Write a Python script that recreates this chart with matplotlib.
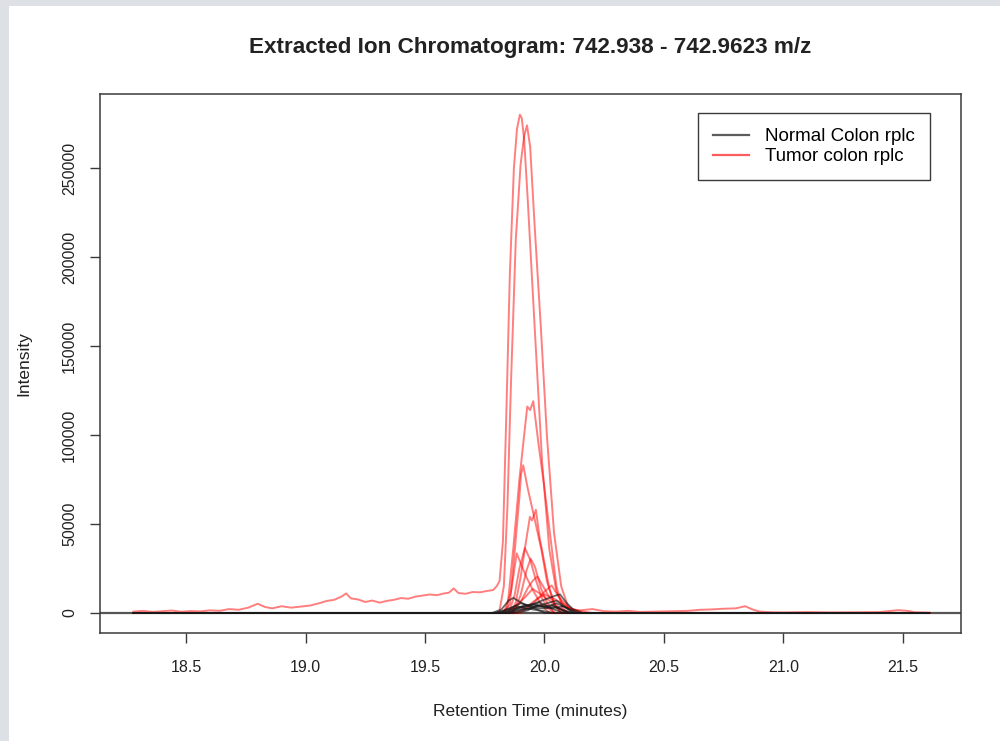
import matplotlib
matplotlib.use("Agg")
import matplotlib.pyplot as plt
from matplotlib.lines import Line2D
from matplotlib.patches import Rectangle

plt.rcParams['font.family'] = ['Liberation Sans', 'DejaVu Sans']

# tumor traces (retention time in minutes, intensity)
# trace 1 carries the rising background before the peak and the tail after it
tumor1_rt = [18.28, 18.32, 18.36, 18.40, 18.44, 18.48, 18.52, 18.56, 18.60, 18.64, 18.68, 18.72,
             18.76, 18.80, 18.83, 18.86, 18.90, 18.94, 18.98, 19.02, 19.06, 19.09, 19.12, 19.15,
             19.17, 19.19, 19.22, 19.25, 19.28, 19.31, 19.34, 19.37, 19.40, 19.43, 19.46, 19.49,
             19.52, 19.55, 19.58, 19.60, 19.62, 19.64, 19.67, 19.70, 19.73, 19.76, 19.785, 19.80,
             19.812, 19.826, 19.84, 19.855, 19.872, 19.885, 19.897, 19.905, 19.915, 19.93, 19.96,
             19.99, 20.02, 20.05, 20.08, 20.12, 20.15, 20.20, 20.25, 20.30, 20.35, 20.40, 20.50,
             20.60, 20.65, 20.70, 20.75, 20.80, 20.84, 20.87, 20.90, 20.95, 21.00, 21.10, 21.20,
             21.30, 21.40, 21.48, 21.52, 21.55, 21.61]
tumor1_int = [800, 1200, 600, 1000, 1400, 700, 1100, 900, 1500, 1200, 2200, 1800,
              3000, 5200, 3400, 2600, 3800, 3000, 3600, 4200, 5600, 6800, 7400, 9200,
              11000, 8200, 7600, 6200, 7000, 5800, 6800, 7400, 8400, 8000, 9200, 9800,
              10400, 10000, 11000, 11400, 13800, 11200, 10800, 11800, 11600, 12400, 12900, 15000,
              18000, 40000, 110000, 190000, 250000, 272000, 280000, 278000, 266000, 232000, 158000,
              85000, 36000, 12000, 4000, 2000, 1500, 2200, 1000, 800, 1200, 600, 900,
              1200, 1800, 2000, 2400, 2600, 3800, 2000, 800, 400, 300, 500, 300,
              400, 500, 1600, 1200, 400, 200]

tumor2_rt = [18.28, 19.81, 19.83, 19.845, 19.86, 19.88, 19.90, 19.915, 19.927, 19.94, 19.96,
             19.985, 20.01, 20.04, 20.07, 20.10, 20.14, 21.61]
tumor2_int = [0, 0, 15000, 60000, 130000, 210000, 252000, 268000, 274000, 262000, 215000,
              160000, 100000, 45000, 15000, 3000, 0, 0]

tumor3_rt = [18.28, 19.82, 19.845, 19.87, 19.895, 19.915, 19.928, 19.94, 19.953, 19.975,
             19.998, 20.03, 20.05, 20.075, 20.10, 21.61]
tumor3_int = [0, 0, 3000, 37000, 75000, 100000, 116000, 114000, 119000, 95000,
              72000, 37000, 15000, 3000, 0, 0]

tumor4_rt = [18.28, 19.83, 19.855, 19.877, 19.895, 19.902, 19.911, 19.93, 19.96, 19.988,
             20.01, 20.04, 20.07, 21.61]
tumor4_int = [0, 0, 5000, 37000, 65000, 78000, 83000, 70000, 52000, 35000,
              18000, 5000, 0, 0]

tumor5_rt = [18.28, 19.86, 19.88, 19.90, 19.92, 19.939, 19.948, 19.964, 19.98, 20.00,
             20.02, 20.045, 20.07, 21.61]
tumor5_int = [0, 0, 6000, 20000, 38000, 54000, 52000, 58000, 42000, 28000,
              14000, 4000, 0, 0]

tumor6_rt = [18.28, 19.85, 19.875, 19.895, 19.918, 19.94, 19.965, 19.99, 20.02, 20.05, 21.61]
tumor6_int = [0, 0, 10000, 25000, 36500, 30000, 18000, 8000, 2000, 0, 0]

tumor7_rt = [18.28, 19.83, 19.86, 19.884, 19.90, 19.925, 19.955, 19.985, 20.02, 21.61]
tumor7_int = [0, 0, 12000, 33500, 28000, 20000, 12000, 5000, 0, 0]

tumor8_rt = [18.28, 19.87, 19.90, 19.925, 19.942, 19.96, 19.985, 20.01, 20.04, 21.61]
tumor8_int = [0, 0, 10000, 24000, 30500, 26000, 14000, 6000, 0, 0]

tumor9_rt = [18.28, 19.86, 19.90, 19.93, 19.95, 19.97, 19.99, 20.02, 20.06, 20.10, 21.61]
tumor9_int = [0, 0, 6000, 14000, 18000, 20500, 16000, 9000, 3000, 0, 0]

tumor10_rt = [18.28, 19.84, 19.88, 19.92, 19.95, 19.98, 20.02, 20.06, 20.10, 21.61]
tumor10_int = [0, 0, 4000, 9000, 13500, 11000, 7000, 2500, 0, 0]

tumor11_rt = [18.28, 19.88, 19.93, 19.97, 20.00, 20.04, 20.08, 20.12, 20.16, 21.61]
tumor11_int = [0, 0, 4000, 8000, 10500, 8000, 5000, 2000, 0, 0]

tumor12_rt = [18.28, 19.90, 19.95, 20.00, 20.03, 20.06, 20.10, 20.14, 20.20, 21.61]
tumor12_int = [0, 0, 5000, 12000, 15500, 9000, 3000, 1200, 0, 0]

# normal traces
normal1_rt = [18.28, 19.78, 19.82, 19.85, 19.87, 19.90, 19.93, 19.97, 20.00, 21.61]
normal1_int = [0, 0, 2000, 7000, 8500, 6000, 4000, 2000, 0, 0]

normal2_rt = [18.28, 19.85, 19.90, 19.95, 20.00, 20.04, 20.065, 20.09, 20.12, 20.16, 21.61]
normal2_int = [0, 0, 3000, 5000, 7500, 9500, 10500, 6000, 2000, 0, 0]

normal3_rt = [18.28, 19.80, 19.86, 19.90, 19.94, 19.98, 20.02, 20.06, 20.10, 21.61]
normal3_int = [0, 0, 3000, 5500, 4000, 6000, 3000, 1000, 0, 0]

normal4_rt = [18.28, 19.83, 19.88, 19.92, 19.96, 20.00, 20.05, 20.08, 20.12, 21.61]
normal4_int = [0, 0, 2500, 4500, 3500, 5000, 7000, 4000, 0, 0]

normal5_rt = [18.28, 19.86, 19.92, 19.96, 20.00, 20.04, 20.08, 20.12, 21.61]
normal5_int = [0, 0, 2000, 3000, 2500, 3500, 1500, 0, 0]

normal6_rt = [18.28, 19.79, 19.84, 19.88, 19.91, 19.95, 20.00, 20.04, 21.61]
normal6_int = [0, 0, 1500, 4000, 3000, 2000, 1000, 0, 0]

normal7_rt = [18.28, 19.88, 19.93, 19.97, 20.01, 20.05, 20.09, 20.14, 21.61]
normal7_int = [0, 0, 1500, 4500, 3000, 5500, 3000, 0, 0]

normal8_rt = [18.28, 19.82, 19.87, 19.91, 19.95, 19.99, 20.03, 20.07, 20.11, 21.61]
normal8_int = [0, 0, 2500, 3500, 5000, 3500, 4500, 2000, 0, 0]

normal9_rt = [18.28, 19.84, 19.89, 19.94, 19.98, 20.03, 20.08, 20.13, 21.61]
normal9_int = [0, 0, 1800, 2800, 4200, 2600, 3800, 0, 0]

tumor_traces = [(tumor1_rt, tumor1_int), (tumor2_rt, tumor2_int), (tumor3_rt, tumor3_int),
                (tumor4_rt, tumor4_int), (tumor5_rt, tumor5_int), (tumor6_rt, tumor6_int),
                (tumor7_rt, tumor7_int), (tumor8_rt, tumor8_int), (tumor9_rt, tumor9_int),
                (tumor10_rt, tumor10_int), (tumor11_rt, tumor11_int), (tumor12_rt, tumor12_int)]
normal_traces = [(normal1_rt, normal1_int), (normal2_rt, normal2_int), (normal3_rt, normal3_int),
                 (normal4_rt, normal4_int), (normal5_rt, normal5_int), (normal6_rt, normal6_int),
                 (normal7_rt, normal7_int), (normal8_rt, normal8_int), (normal9_rt, normal9_int)]

x_ticks = [18.5, 19.0, 19.5, 20.0, 20.5, 21.0, 21.5]
y_ticks = [0, 50000, 100000, 150000, 200000, 250000]

tumor_col = (1.0, 0.0, 0.0, 0.5)
normal_col = (0.1, 0.1, 0.1, 0.65)
axis_col = '#3a3a3a'

fig = plt.figure(figsize=(10, 7.41), dpi=100, facecolor='#dde1e6')
# white panel behind the plot
fig.patches.append(Rectangle((9 / 1000, 0), 1, 1 - 6 / 741, transform=fig.transFigure,
                             facecolor='white', edgecolor='none', zorder=-5))
ax = fig.add_axes([0.100, 1 - 633 / 741, 0.861, 539 / 741])
ax.set_facecolor('white')

ax.axhline(0, color='#555555', lw=1.6, zorder=1)
for rt, inten in tumor_traces:
    ax.plot(rt, inten, color=tumor_col, lw=1.4, zorder=2)
for rt, inten in normal_traces:
    ax.plot(rt, inten, color=normal_col, lw=1.3, zorder=3)

ax.set_xlim(18.14, 21.743)
ax.set_ylim(-11240, 291600)
ax.set_xticks(x_ticks)
ax.set_xticklabels(['%.1f' % t for t in x_ticks])
ax.set_yticks(y_ticks)
ax.set_yticklabels([str(t) for t in y_ticks], rotation=90, va='center')
ax.tick_params(axis='both', direction='out', length=7.5, width=1, color=axis_col,
               labelsize=11.5, labelcolor='#222222')
ax.tick_params(axis='x', pad=12)
ax.tick_params(axis='y', pad=9)
for s in ax.spines.values():
    s.set_color(axis_col)
    s.set_linewidth(1.1)

fig.text(0.530, 1 - 47 / 741, 'Extracted Ion Chromatogram: 742.938 - 742.9623 m/z',
         ha='center', va='center', fontsize=16.2, fontweight='bold', color='#222222')
ax.set_xlabel('Retention Time (minutes)', fontsize=12.5, color='#222222')
ax.xaxis.set_label_coords(0.5, (633 - 704) / 539)
ax.set_ylabel('Intensity', fontsize=12.5, color='#222222')
ax.yaxis.set_label_coords((31 - 100) / 861, 0.5)

handles = [Line2D([], [], color=(0.2, 0.2, 0.2, 0.8), lw=1.6),
           Line2D([], [], color=(1.0, 0.2, 0.2, 0.8), lw=1.6)]
leg = ax.legend(handles, ['Normal Colon rplc', 'Tumor colon rplc'], loc='upper right',
                bbox_to_anchor=((930 - 100) / 861, (633 - 113) / 539), fontsize=13.5,
                fancybox=False, framealpha=1, edgecolor=axis_col, handlelength=1.95,
                labelspacing=0.15, borderpad=0.8, handletextpad=0.85, borderaxespad=0)
leg.get_frame().set_linewidth(1.0)

fig.savefig('out.png', dpi=100, facecolor=fig.get_facecolor())
